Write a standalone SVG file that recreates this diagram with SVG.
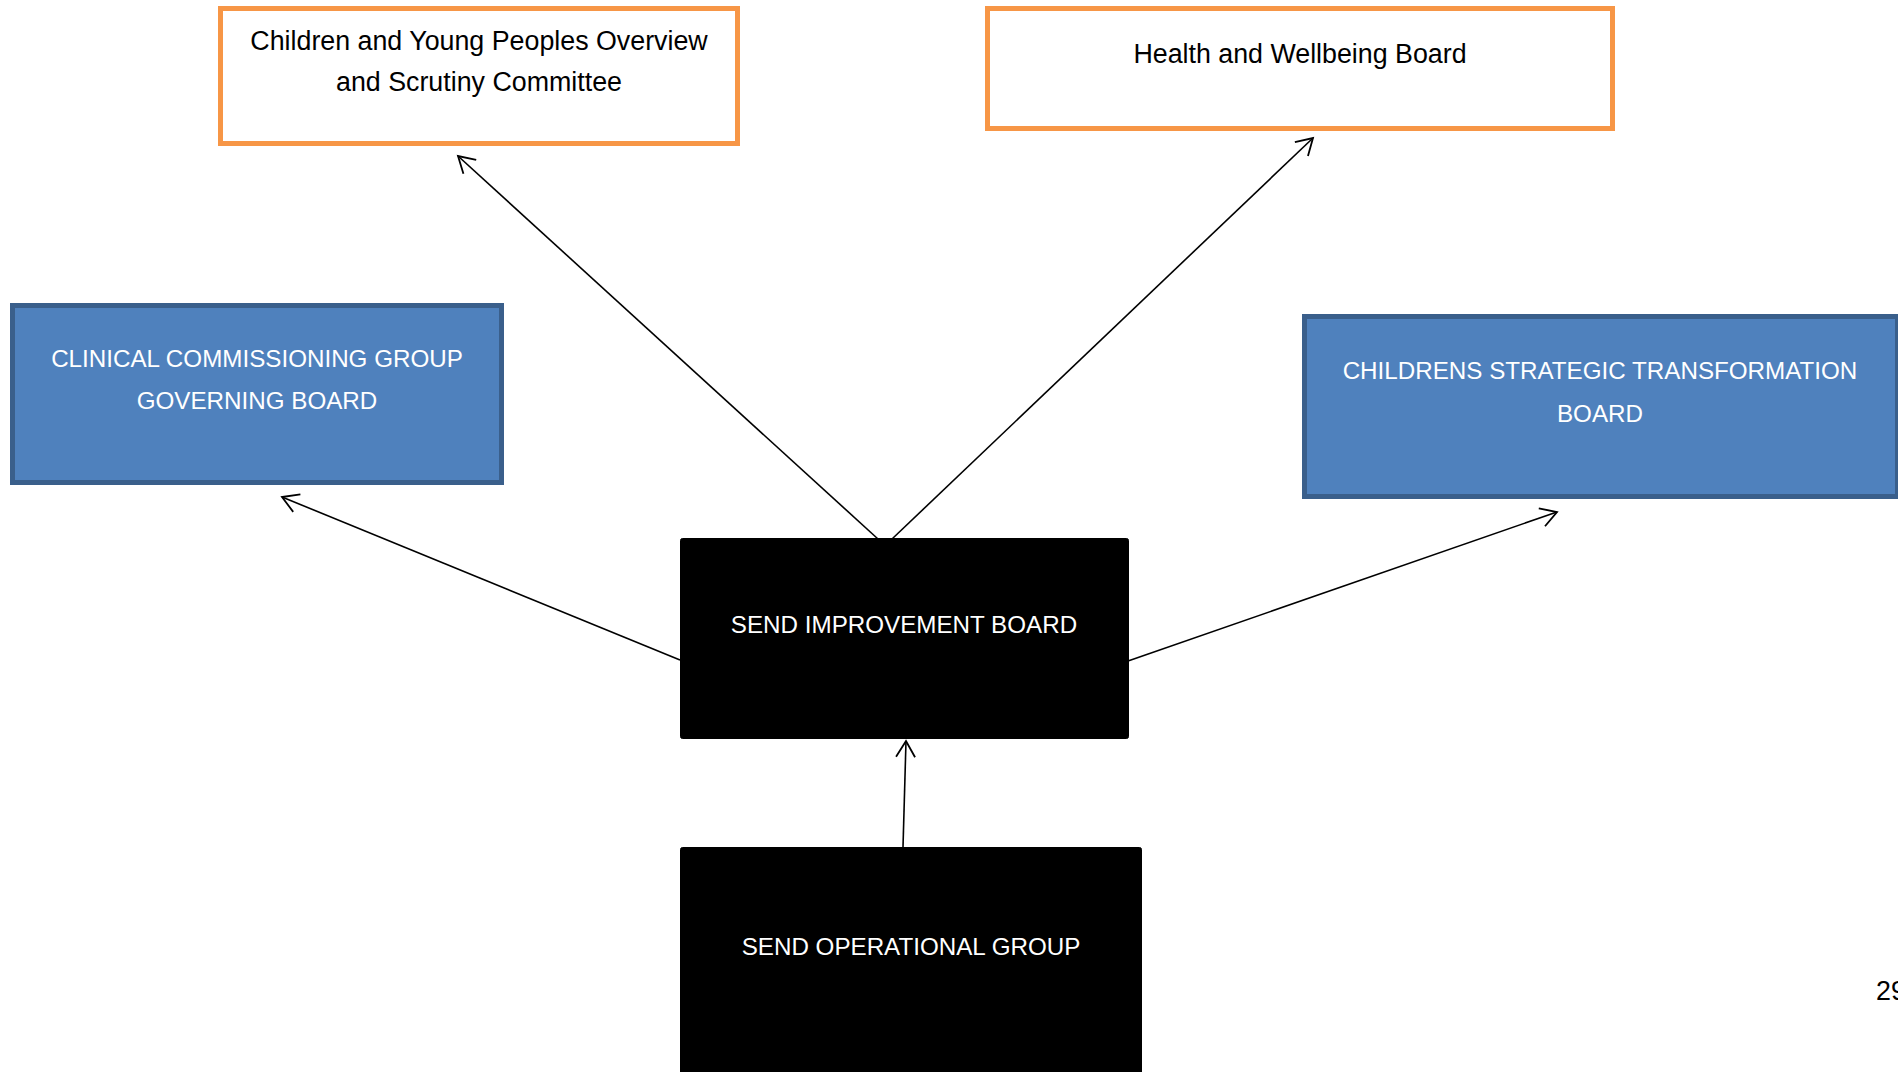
<svg xmlns="http://www.w3.org/2000/svg" width="1898" height="1072" viewBox="0 0 1898 1072">
<style>
.orange{fill:#ffffff;stroke:#F79646;stroke-width:5}
.blue{fill:#4F81BD;stroke:#3A5F8B;stroke-width:5}
.black{fill:#000000;stroke:#000000;stroke-width:1}
.t{font-family:"Liberation Sans",Arial,sans-serif;font-size:26.8px;text-anchor:middle}
.u{font-size:24.2px}
.dark{fill:#000000}
.light{fill:#ffffff}
.conn{stroke:#000000;stroke-width:1.6;fill:none;marker-end:url(#arr)}
</style>
<defs>
<marker id="arr" markerUnits="userSpaceOnUse" markerWidth="24" markerHeight="24" viewBox="-20 -12 24 24" refX="0" refY="0" orient="auto">
<path d="M -16 -9.5 L 0 0 L -16 9.5" fill="none" stroke="#000000" stroke-width="1.8"/>
</marker>
</defs>
<rect width="1898" height="1072" fill="#ffffff"/>
<g id="connectors">
<line class="conn" x1="878" y1="539" x2="458" y2="156"/>
<line class="conn" x1="892" y1="539" x2="1313" y2="138"/>
<line class="conn" x1="680" y1="660" x2="282" y2="497"/>
<line class="conn" x1="1128" y1="661" x2="1557" y2="512"/>
<line class="conn" x1="903" y1="847" x2="906" y2="741"/>
</g>
<g id="node-cyp">
<rect class="orange" x="220.5" y="8.5" width="517" height="135"/>
<text class="t dark" x="479" y="50">Children and Young Peoples Overview</text>
<text class="t dark" x="479" y="91">and Scrutiny Committee</text>
</g>
<g id="node-hwb">
<rect class="orange" x="987.5" y="8.5" width="625" height="120"/>
<text class="t dark" x="1300" y="63">Health and Wellbeing Board</text>
</g>
<g id="node-ccg">
<rect class="blue" x="12.5" y="305.5" width="489" height="177"/>
<text class="t u light" x="257" y="367">CLINICAL COMMISSIONING GROUP</text>
<text class="t u light" x="257" y="409">GOVERNING BOARD</text>
</g>
<g id="node-cst">
<rect class="blue" x="1304.5" y="316.5" width="593" height="180"/>
<text class="t u light" x="1600" y="379">CHILDRENS STRATEGIC TRANSFORMATION</text>
<text class="t u light" x="1600" y="422">BOARD</text>
</g>
<g id="node-sib">
<rect class="black" x="680.5" y="538.5" width="448" height="200" rx="2"/>
<text class="t u light" x="904" y="633">SEND IMPROVEMENT BOARD</text>
</g>
<g id="node-sog">
<rect class="black" x="680.5" y="847.5" width="461" height="240" rx="2"/>
<text class="t u light" x="911" y="955">SEND OPERATIONAL GROUP</text>
</g>
<text class="t dark" x="1876" y="1000" style="text-anchor:start">29</text>
</svg>
